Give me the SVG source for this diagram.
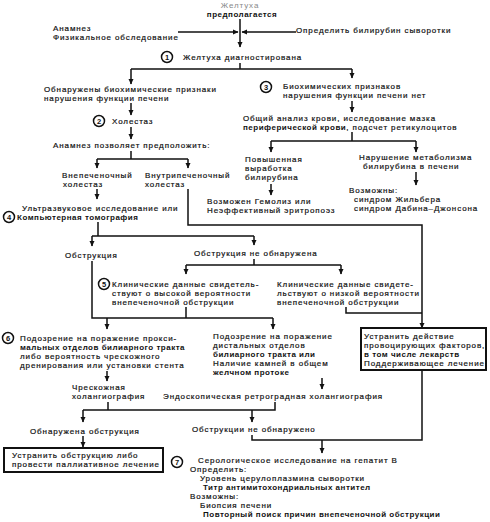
<svg xmlns="http://www.w3.org/2000/svg" width="490" height="522" viewBox="0 0 490 522">
<style>
text{font-family:"Liberation Sans",Arial,sans-serif;font-size:8px;letter-spacing:0.9px;fill:#111;stroke:#111;stroke-width:0.2px}
.b{font-weight:bold;letter-spacing:0.5px;stroke-width:0}
.g{fill:#888;stroke:none}
.ln{fill:none;stroke:#111;stroke-width:1.5}
.a{fill:none;stroke:#111;stroke-width:1.5;marker-end:url(#ah)}
.c{fill:#fff;stroke:#111;stroke-width:1.5}
.n{font-size:7.5px;font-weight:bold;letter-spacing:0;text-anchor:middle;stroke-width:0}
.box{fill:#fff;stroke:#111;stroke-width:2}
</style>
<defs>
<marker id="ah" markerWidth="6" markerHeight="6" refX="5" refY="3" orient="auto" markerUnits="userSpaceOnUse">
<path d="M0,0.5 L5.5,3 L0,5.5 Z" fill="#111"/>
</marker>
</defs>
<rect width="490" height="522" fill="#fff"/>
<g id="connectors">
<path class="a" d="M178,32 H238"/>
<path class="a" d="M296,32 H242"/>
<path class="a" d="M240,19 V47"/>
<path class="ln" d="M240,63 V69 M131,69 H352"/>
<path class="a" d="M131,69 V84"/>
<path class="a" d="M352,69 V78"/>
<path class="a" d="M131,103 V115"/>
<path class="a" d="M131,127 V139"/>
<path class="ln" d="M131,151 V159 M97,159 H188"/>
<path class="a" d="M97,159 V168"/>
<path class="a" d="M188,159 V168"/>
<path class="a" d="M97,189 V199"/>
<path class="a" d="M188,189 V225 H422 V328"/>
<path class="ln" d="M98,222 V236 M92,236 H254"/>
<path class="a" d="M92,236 V246"/>
<path class="a" d="M254,236 V245"/>
<path class="a" d="M352,101 V112"/>
<path class="ln" d="M352,132 V141 M271,141 H416"/>
<path class="a" d="M271,141 V152"/>
<path class="a" d="M416,141 V152"/>
<path class="a" d="M271,184 V195"/>
<path class="a" d="M416,172 V185"/>
<path class="ln" d="M254,259 V265 M186,265 H341"/>
<path class="a" d="M186,265 V274"/>
<path class="a" d="M341,265 V274"/>
<path class="ln" d="M92,261 V318 H273 M186,307 V318"/>
<path class="a" d="M107,318 V329"/>
<path class="a" d="M273,318 V329"/>
<path class="ln" d="M346,307 V313 H422"/>
<path class="a" d="M107,371 V381"/>
<path class="a" d="M322,378 V389"/>
<path class="ln" d="M108,402 V410 M83,410 H275 V402"/>
<path class="a" d="M83,410 V422"/>
<path class="a" d="M252,410 V422"/>
<path class="a" d="M83,436 V447"/>
<path class="ln" d="M422,370 V440 H252 V435"/>
<path class="a" d="M322,440 V453"/>
</g>
<g id="n-start">
<text class="g" x="240" y="8" text-anchor="middle">Желтуха</text>
<text class="b" x="242" y="17" text-anchor="middle">предполагается</text>
</g>
<g id="n-anamnez">
<text x="53" y="31">Анамнез</text>
<text x="53" y="40">Физикальное обследование</text>
</g>
<g id="n-bili">
<text x="296" y="33">Определить билирубин сыворотки</text>
</g>
<g id="n1">
<circle class="c" cx="167" cy="57" r="5.5"/>
<text class="n" x="167" y="59.7">1</text>
<text x="183" y="60">Желтуха диагностирована</text>
</g>
<g id="n-bio">
<text x="44" y="92">Обнаружены биохимические признаки</text>
<text x="44" y="101">нарушения функции печени</text>
</g>
<g id="n2">
<circle class="c" cx="99" cy="121" r="5.5"/>
<text class="n" x="99" y="123.7">2</text>
<text x="112" y="124">Холестаз</text>
</g>
<g id="n3">
<circle class="c" cx="266" cy="87" r="5.5"/>
<text class="n" x="266" y="89.7">3</text>
<text x="283" y="89">Биохимических признаков</text>
<text x="283" y="98">нарушения функции печени нет</text>
</g>
<g id="n-blood">
<text x="243" y="121">Общий анализ крови, исследование мазка</text>
<text x="243" y="130"><tspan class="b">периферической крови</tspan>, подсчет ретикулоцитов</text>
</g>
<g id="n-anamnez2">
<text x="53" y="148">Анамнез позволяет предположить:</text>
</g>
<g id="n-prod">
<text x="245" y="162">Повышенная</text>
<text x="245" y="171">выработка</text>
<text x="245" y="180">билирубина</text>
</g>
<g id="n-metab">
<text x="359" y="160">Нарушение метаболизма</text>
<text x="363" y="169">билирубина в печени</text>
</g>
<g id="n-extra">
<text x="62" y="178">Внепеченочный</text>
<text x="63" y="187">холестаз</text>
</g>
<g id="n-intra">
<text x="145" y="178">Внутрипеченочный</text>
<text x="145" y="187">холестаз</text>
</g>
<g id="n-synd">
<text x="349" y="193">Возможны:</text>
<text x="354" y="202">синдром Жильбера</text>
<text x="354" y="211">синдром Дабина–Джонсона</text>
</g>
<g id="n-hemo">
<text x="207" y="204">Возможен Гемолиз или</text>
<text x="207" y="213">Неэффективный эритропоэз</text>
</g>
<g id="n4">
<text x="22" y="211">Ультразвуковое исследование или</text>
<circle class="c" cx="9" cy="217" r="5.5"/>
<text class="n" x="9" y="219.7">4</text>
<text class="b" x="17" y="220">Компьютерная томография</text>
</g>
<g id="n-obs">
<text x="65" y="258">Обструкция</text>
</g>
<g id="n-noobs">
<text x="194" y="256">Обструкция не обнаружена</text>
</g>
<g id="n5">
<circle class="c" cx="104" cy="284" r="5.5"/>
<text class="n" x="104" y="286.7">5</text>
<text x="112" y="287">Клинические данные свидетель-</text>
<text x="112" y="296">ствуют о высокой вероятности</text>
<text x="112" y="305">внепеченочной обструкции</text>
</g>
<g id="n-low">
<text x="277" y="287">Клинические данные свидете-</text>
<text x="277" y="296">льствуют о низкой вероятности</text>
<text x="277" y="305">внепеченочной обструкции</text>
</g>
<g id="n6">
<circle class="c" cx="8" cy="338" r="5.5"/>
<text class="n" x="8" y="340.7">6</text>
<text x="20" y="341">Подозрение на поражение прокси-</text>
<text class="b" x="20" y="350">мальных отделов билиарного тракта</text>
<text x="20" y="359">либо вероятность чрескожного</text>
<text x="20" y="368">дренирования или установки стента</text>
</g>
<g id="n-distal">
<text x="213" y="339">Подозрение на поражение</text>
<text x="213" y="348">дистальных отделов</text>
<text class="b" x="213" y="357">билиарного тракта или</text>
<text x="213" y="366">Наличие камней в общем</text>
<text class="b" x="213" y="375">желчном протоке</text>
</g>
<g id="n-remove">
<rect class="box" x="361" y="328" width="125" height="42"/>
<text x="364" y="339">Устранить действие</text>
<text x="364" y="348">провоцирующих факторов,</text>
<text class="b" x="364" y="357">в том числе лекарств</text>
<text x="364" y="366">Поддерживающее лечение</text>
</g>
<g id="n-perc">
<text x="72" y="390">Чрескожная</text>
<text x="72" y="399">холангиография</text>
</g>
<g id="n-endo">
<text x="163" y="399">Эндоскопическая ретроградная холангиография</text>
</g>
<g id="n-found">
<text x="30" y="434">Обнаружена обструкция</text>
</g>
<g id="n-notfound">
<text x="192" y="432">Обструкции не обнаружено</text>
</g>
<g id="n-treat">
<rect class="box" x="4" y="448" width="159" height="24"/>
<text x="12" y="458">Устранить обструкцию либо</text>
<text x="12" y="467">провести паллиативное лечение</text>
</g>
<g id="n7">
<circle class="c" cx="177" cy="462" r="5.5"/>
<text class="n" x="177" y="464.7">7</text>
<text x="198" y="463">Серологическое исследование на гепатит В</text>
<text x="190" y="472">Определить:</text>
<text x="200" y="481">Уровень церулоплазмина сыворотки</text>
<text class="b" x="203" y="490">Титр антимитохондриальных антител</text>
<text x="190" y="499">Возможны:</text>
<text x="200" y="508">Биопсия печени</text>
<text class="b" x="203" y="517">Повторный поиск причин внепеченочной обструкции</text>
</g>
</svg>
